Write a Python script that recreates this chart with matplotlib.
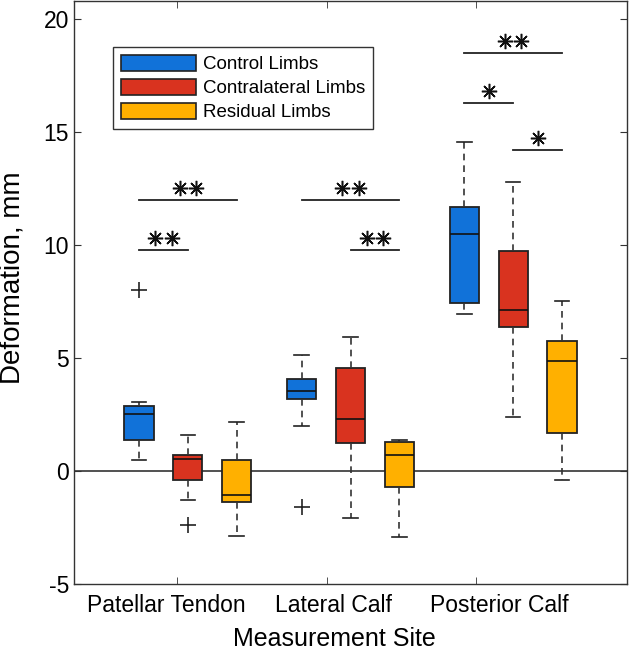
import numpy as np
import matplotlib.pyplot as plt
from matplotlib.patches import Patch

plt.rcParams['font.family'] = ['Liberation Sans', 'DejaVu Sans']
plt.rcParams['axes.unicode_minus'] = False

sites = ['Patellar Tendon', 'Lateral Calf', 'Posterior Calf']
groups = ['Control Limbs', 'Contralateral Limbs', 'Residual Limbs']
colors = ['#1172D9', '#D9331F', '#FFB000']

# box stats, one row per site, columns = groups
med = [[2.51, 0.51, -1.08], [3.52, 2.28, 0.69], [10.5, 7.13, 4.86]]
q1 = [[1.36, -0.41, -1.36], [3.18, 1.23, -0.70], [7.42, 6.36, 1.69]]
q3 = [[2.87, 0.70, 0.48], [4.05, 4.58, 1.28], [11.69, 9.73, 5.74]]
whislo = [[0.48, -1.29, -2.88], [1.97, -2.1, -2.9], [6.94, 2.38, -0.41]]
whishi = [[3.06, 1.58, 2.16], [5.15, 5.92, 1.38], [14.57, 12.78, 7.51]]
fliers = [[[8.0], [-2.4], []], [[-1.6], [], []], [[], [], []]]

# significance bars: site, group a, group b, height, number of stars
sig_site = [0, 0, 1, 1, 2, 2, 2]
sig_a = [0, 0, 0, 1, 0, 0, 1]
sig_b = [2, 1, 2, 2, 2, 1, 2]
sig_y = [12.0, 9.8, 12.0, 9.8, 18.5, 16.3, 14.2]
sig_n = [2, 2, 2, 2, 2, 1, 1]

offset = [-0.3, 0.0, 0.3]

fig = plt.figure(figsize=(6.29, 6.54), dpi=100)
ax = fig.add_axes([74/629, 70/654, 553/629, 583/654])

for i in range(3):
    for j in range(3):
        st = dict(med=med[i][j], q1=q1[i][j], q3=q3[i][j],
                  whislo=whislo[i][j], whishi=whishi[i][j], fliers=fliers[i][j])
        ax.bxp([st], positions=[i + 1 + offset[j]], widths=0.18, capwidths=0.09,
               patch_artist=True, manage_ticks=False,
               boxprops=dict(facecolor=colors[j], edgecolor='#222222', linewidth=1.3),
               medianprops=dict(color='#111111', linewidth=1.2),
               whiskerprops=dict(color='#333333', linewidth=1.2, linestyle=(0, (4, 3))),
               capprops=dict(color='#222222', linewidth=1.2),
               flierprops=dict(marker='+', markersize=11, markeredgecolor='#222222',
                               markeredgewidth=1.2))

ax.axhline(0, color='#333333', linewidth=1.2, zorder=0)

for s, a, b, y, n in zip(sig_site, sig_a, sig_b, sig_y, sig_n):
    x1 = s + 1 + offset[a]
    x2 = s + 1 + offset[b]
    ax.plot([x1, x2], [y, y], color='#222222', linewidth=1.3)
    xc = (x1 + x2) / 2
    xs = [xc] if n == 1 else [xc - 0.05, xc + 0.05]
    ax.plot(xs, [y + 0.52] * len(xs), linestyle='none', marker=(8, 2, 0),
            markersize=11, markeredgewidth=1.1, color='#111111')
    ax.plot(xs, [y + 0.52] * len(xs), linestyle='none', marker='o',
            markersize=2.8, color='#111111')

ax.set_xlim(0.3, 3.7)
ax.set_ylim(-5, 20.8)
ax.set_yticks([-5, 0, 5, 10, 15, 20])
ax.set_xticks([0.866, 1.893, 2.914])
ax.set_xticklabels(sites)
ax.set_xticks([0.933, 1.856, 2.772], minor=True)
ax.tick_params(axis='x', which='major', length=0, labelsize=16.5, pad=7)
ax.tick_params(axis='x', which='minor', direction='in', length=5, top=True,
               color='#333333')
ax.tick_params(axis='y', direction='in', length=5, right=True, labelsize=16.5,
               color='#333333')
for sp in ax.spines.values():
    sp.set_linewidth(1.0)
    sp.set_color('#333333')

ax.set_xlabel('Measurement Site', fontsize=18)
ax.xaxis.set_label_coords(0.47, -0.074)
ax.set_ylabel('Deformation, mm', fontsize=20)
ax.yaxis.set_label_coords(-0.087, 0.525)

handles = [Patch(facecolor=c, edgecolor='#222222', linewidth=1.2) for c in colors]
leg = ax.legend(handles, groups, loc='upper left', bbox_to_anchor=(0.054, 0.937),
                fontsize=13.5, handlelength=4.0, handleheight=0.95,
                handletextpad=0.4, labelspacing=0.3, borderpad=0.4,
                fancybox=False, framealpha=1, edgecolor='#333333')
leg.get_frame().set_linewidth(1.0)

fig.savefig('out.png', dpi=100)
